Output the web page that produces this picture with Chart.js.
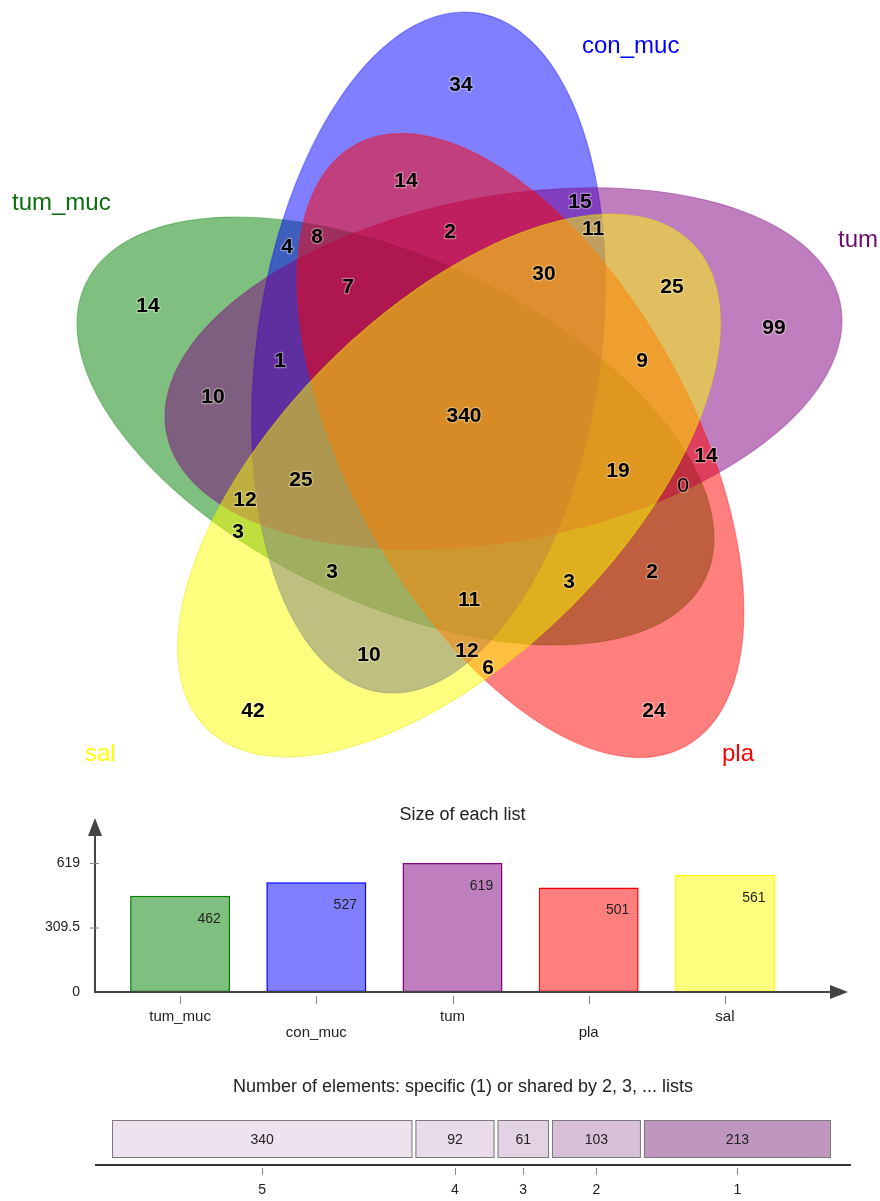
<!DOCTYPE html>
<html>
<head>
<meta charset="utf-8">
<script src="https://cdn.jsdelivr.net/npm/chart.js@4.4.1/dist/chart.umd.min.js"></script>
<style>
  html, body { margin: 0; padding: 0; background: #ffffff; }
  #page { position: relative; width: 880px; height: 1201px; overflow: hidden; background: #ffffff; }
  #page canvas { position: absolute; left: 0; }
</style>
</head>
<body>
<div id="page">
  <canvas id="venn" width="880" height="790" style="top:0px"></canvas>
  <canvas id="sizes" width="880" height="260" style="top:790px"></canvas>
  <canvas id="shared" width="880" height="151" style="top:1050px"></canvas>
</div>
<script>
// ---- data ----
const listNames = ['tum_muc', 'con_muc', 'tum', 'pla', 'sal'];
// membership of each Venn region: A=tum_muc, B=con_muc, C=tum, D=pla, E=sal
const regionSets = ['B', 'BD', 'BC', 'BCE', 'BCD', 'AB', 'ABD', 'ABCD', 'BCDE', 'CE',
                    'C', 'A', 'ABC', 'AC', 'ABCDE', 'CDE', 'ACDE', 'CD', 'ACD', 'ACE',
                    'ABCE', 'AE', 'ABE', 'ABDE', 'ADE', 'AD', 'BE', 'BDE', 'DE', 'E', 'D'];
const regionCounts = [34, 14, 15, 11, 2, 4, 8, 7, 30, 25,
                      99, 14, 1, 10, 340, 9, 19, 14, 0, 12,
                      25, 3, 3, 11, 3, 2, 10, 12, 6, 42, 24];
const listSizes = [462, 527, 619, 501, 561];
const sizeTicks = [0, 309.5, 619];
const sharedBy = [5, 4, 3, 2, 1];
const sharedCounts = [340, 92, 61, 103, 213];

// ---- layout & style ----
const FONT = "'Liberation Sans', Arial, Helvetica, sans-serif";
const solid = ['rgb(0,128,0)', 'rgb(0,0,255)', 'rgb(128,0,128)', 'rgb(255,0,0)', 'rgb(255,255,0)'];
const translucent = ['rgba(0,128,0,0.5)', 'rgba(0,0,255,0.5)', 'rgba(128,0,128,0.5)', 'rgba(255,0,0,0.5)', 'rgba(255,255,0,0.5)'];
const edges = ['rgba(0,128,0,0.35)', 'rgba(0,0,255,0.35)', 'rgba(128,0,128,0.35)', 'rgba(255,0,0,0.35)', 'rgba(230,230,0,0.45)'];
const nameColors = ['#0b6e0b', '#0000ff', '#6e0a6e', '#ff0000', '#ffff00'];
// ellipse for each list in diagram units: centre x, centre y, radius x, radius y, rotation (deg)
const ellipseShapes = [
  [395.5, 431, 343, 172, 25.4],
  [428.5, 352.5, 343, 172, -82],
  [503.5, 368.5, 343, 172, -10.8],
  [520.5, 445.5, 343, 172, 61.3],
  [449, 485.5, 343, 172, -45]
];
// list name anchors (left edge, vertical middle)
const namePos = [[12, 203], [582, 46], [838, 240], [722, 754], [85, 754]];
// where each region's count sits
const regionLabelPos = [[461, 84], [406, 180], [580, 201], [593, 228], [450, 231], [287, 246], [317, 236], [348, 286], [544, 273], [672, 286],
                        [774, 327], [148, 305], [280, 360], [213, 396], [464, 415], [642, 360], [618, 470], [706, 455], [683, 485], [245, 499],
                        [301, 479], [238, 531], [332, 571], [469, 599], [569, 581], [652, 571], [369, 654], [467, 650], [488, 667], [253, 710], [654, 710]];
const sharedFills = ['#eee2ee', '#e9dbe9', '#e3d2e3', '#d8c1d8', '#be96be'];

// ---- Venn diagram ----
const vennPlugin = {
  id: 'vennShapes',
  beforeDatasetsDraw(chart) {
    const { ctx, scales: { x, y } } = chart;
    ellipseShapes.forEach((e, i) => {
      const cx = x.getPixelForValue(e[0]);
      const cy = y.getPixelForValue(e[1]);
      const rx = Math.abs(x.getPixelForValue(e[2]) - x.getPixelForValue(0));
      const ry = Math.abs(y.getPixelForValue(e[3]) - y.getPixelForValue(0));
      ctx.save();
      ctx.beginPath();
      ctx.ellipse(cx, cy, rx, ry, e[4] * Math.PI / 180, 0, Math.PI * 2);
      ctx.fillStyle = translucent[i];
      ctx.fill();
      ctx.lineWidth = 1.2;
      ctx.strokeStyle = edges[i];
      ctx.stroke();
      ctx.restore();
    });
    ctx.save();
    ctx.font = '24px ' + FONT;
    ctx.textAlign = 'left';
    ctx.textBaseline = 'middle';
    listNames.forEach((name, i) => {
      ctx.fillStyle = nameColors[i];
      ctx.fillText(name, x.getPixelForValue(namePos[i][0]), y.getPixelForValue(namePos[i][1]));
    });
    ctx.restore();
  },
  afterDatasetsDraw(chart) {
    const { ctx } = chart;
    const meta = chart.getDatasetMeta(0);
    ctx.save();
    ctx.textAlign = 'center';
    ctx.textBaseline = 'middle';
    ctx.lineJoin = 'round';
    meta.data.forEach((pt, i) => {
      const n = regionCounts[i];
      ctx.font = (n === 0 ? 'normal ' : 'bold ') + '21px ' + FONT;
      ctx.lineWidth = 2.5;
      ctx.strokeStyle = 'rgba(255,255,230,0.35)';
      ctx.strokeText(String(n), pt.x, pt.y + 1);
      ctx.fillStyle = '#000000';
      ctx.fillText(String(n), pt.x, pt.y + 1);
    });
    ctx.restore();
  }
};

new Chart(document.getElementById('venn'), {
  type: 'scatter',
  data: {
    datasets: [{
      label: 'regions',
      data: regionLabelPos.map((p, i) => ({ x: p[0], y: p[1], sets: regionSets[i] })),
      pointRadius: 0,
      pointHoverRadius: 0
    }]
  },
  options: {
    responsive: false,
    animation: false,
    devicePixelRatio: 1,
    layout: { padding: 0 },
    plugins: { legend: { display: false }, tooltip: { enabled: false } },
    scales: {
      x: { type: 'linear', min: 0, max: 880, display: false },
      y: { type: 'linear', min: 0, max: 790, reverse: true, display: false }
    }
  },
  plugins: [vennPlugin]
});

// ---- size of each list ----
const AXIS = '#444444';
function arrowHead(ctx, tipX, tipY, dir) {
  ctx.beginPath();
  if (dir === 'up') {
    ctx.moveTo(tipX, tipY);
    ctx.lineTo(tipX - 7, tipY + 18);
    ctx.lineTo(tipX + 7, tipY + 18);
  } else {
    ctx.moveTo(tipX, tipY);
    ctx.lineTo(tipX - 18, tipY - 7);
    ctx.lineTo(tipX - 18, tipY + 7);
  }
  ctx.closePath();
  ctx.fill();
}

const sizesPlugin = {
  id: 'sizeAxes',
  afterDatasetsDraw(chart) {
    const { ctx, chartArea: a, scales: { x, y } } = chart;
    const axisX = a.left - 17;
    const base = y.getPixelForValue(0);
    const arrowTipX = a.right + 55;
    ctx.save();
    // title
    ctx.fillStyle = '#222';
    ctx.font = '18px ' + FONT;
    ctx.textAlign = 'center';
    ctx.textBaseline = 'middle';
    ctx.fillText('Size of each list', (a.left + a.right) / 2 + 10, 25);
    // axes
    ctx.strokeStyle = AXIS;
    ctx.fillStyle = AXIS;
    ctx.lineWidth = 2;
    ctx.beginPath();
    ctx.moveTo(axisX, base + 1);
    ctx.lineTo(axisX, 40);
    ctx.moveTo(axisX - 1, base);
    ctx.lineTo(arrowTipX - 12, base);
    ctx.stroke();
    arrowHead(ctx, axisX, 28, 'up');
    arrowHead(ctx, arrowTipX, base, 'right');
    // y ticks
    ctx.lineWidth = 1;
    ctx.strokeStyle = '#888';
    ctx.fillStyle = '#222';
    ctx.font = '14px ' + FONT;
    ctx.textAlign = 'right';
    sizeTicks.forEach(v => {
      const py = y.getPixelForValue(v);
      if (v !== 0) {
        ctx.beginPath();
        ctx.moveTo(axisX - 5, py + 0.5);
        ctx.lineTo(axisX + 4, py + 0.5);
        ctx.stroke();
      }
      ctx.fillText(String(v), axisX - 15, py);
    });
    // x ticks and names
    ctx.textAlign = 'center';
    ctx.font = '15px ' + FONT;
    listNames.forEach((name, i) => {
      const px = x.getPixelForValue(i);
      ctx.beginPath();
      ctx.moveTo(Math.round(px) + 0.5, base + 4);
      ctx.lineTo(Math.round(px) + 0.5, base + 12);
      ctx.stroke();
      ctx.fillText(name, px, base + (i % 2 === 0 ? 25 : 41));
    });
    // value labels
    ctx.font = '14px ' + FONT;
    const meta = chart.getDatasetMeta(0);
    meta.data.forEach((bar, i) => {
      ctx.fillText(String(listSizes[i]), bar.x + 29, bar.y + 23);
    });
    ctx.restore();
  }
};

new Chart(document.getElementById('sizes'), {
  type: 'bar',
  data: {
    labels: listNames,
    datasets: [{
      data: listSizes,
      backgroundColor: translucent,
      borderColor: solid,
      borderWidth: 1.5,
      borderSkipped: false,
      categoryPercentage: 1,
      barPercentage: 0.734
    }]
  },
  options: {
    responsive: false,
    animation: false,
    devicePixelRatio: 1,
    layout: { padding: { left: 112, right: 87, top: 73, bottom: 58 } },
    plugins: { legend: { display: false }, tooltip: { enabled: false } },
    scales: {
      x: { display: false },
      y: { display: false, min: 0, max: 619 }
    }
  },
  plugins: [sizesPlugin]
});

// ---- specific / shared counts ----
const sharedTotal = sharedCounts.reduce((s, v) => s + v, 0);
const sharedPlugin = {
  id: 'sharedAxis',
  afterDatasetsDraw(chart) {
    const { ctx, chartArea: a } = chart;
    ctx.save();
    ctx.fillStyle = '#222';
    ctx.font = '18px ' + FONT;
    ctx.textAlign = 'center';
    ctx.textBaseline = 'middle';
    ctx.fillText('Number of elements: specific (1) or shared by 2, 3, ... lists', 463, 37);
    const axisY = a.bottom + 5.5;
    ctx.strokeStyle = '#333';
    ctx.lineWidth = 2;
    ctx.beginPath();
    ctx.moveTo(95, axisY);
    ctx.lineTo(851, axisY);
    ctx.stroke();
    ctx.font = '14px ' + FONT;
    chart.data.datasets.forEach((ds, i) => {
      const bar = chart.getDatasetMeta(i).data[0];
      const l = Math.min(bar.x, bar.base) + 1.5;
      const r = Math.max(bar.x, bar.base) - 1.5;
      const t = bar.y - bar.height / 2 + 1.5;
      const b = bar.y + bar.height / 2 - 1.5;
      ctx.lineWidth = 1;
      ctx.strokeStyle = '#7a7a7a';
      ctx.strokeRect(l + 0.5, t + 0.5, r - l - 1, b - t - 1);
      const cx = (l + r) / 2;
      ctx.fillStyle = '#222';
      ctx.fillText(String(sharedCounts[i]), cx, bar.y + 1);
      ctx.strokeStyle = '#888';
      ctx.beginPath();
      ctx.moveTo(Math.round(cx) + 0.5, axisY + 3);
      ctx.lineTo(Math.round(cx) + 0.5, axisY + 10);
      ctx.stroke();
      ctx.fillText(String(sharedBy[i]), cx, axisY + 25);
    });
    ctx.restore();
  }
};

new Chart(document.getElementById('shared'), {
  type: 'bar',
  data: {
    labels: [''],
    datasets: sharedCounts.map((v, i) => ({
      label: String(sharedBy[i]),
      data: [v],
      backgroundColor: sharedFills[i],
      borderWidth: 0,
      inflateAmount: -1.5,
      categoryPercentage: 1,
      barPercentage: 1
    }))
  },
  options: {
    indexAxis: 'y',
    responsive: false,
    animation: false,
    devicePixelRatio: 1,
    layout: { padding: { left: 110.5, right: 47.5, top: 68.5, bottom: 41.5 } },
    plugins: { legend: { display: false }, tooltip: { enabled: false } },
    scales: {
      x: { stacked: true, display: false, min: 0, max: sharedTotal },
      y: { stacked: true, display: false }
    }
  },
  plugins: [sharedPlugin]
});
</script>
</body>
</html>
